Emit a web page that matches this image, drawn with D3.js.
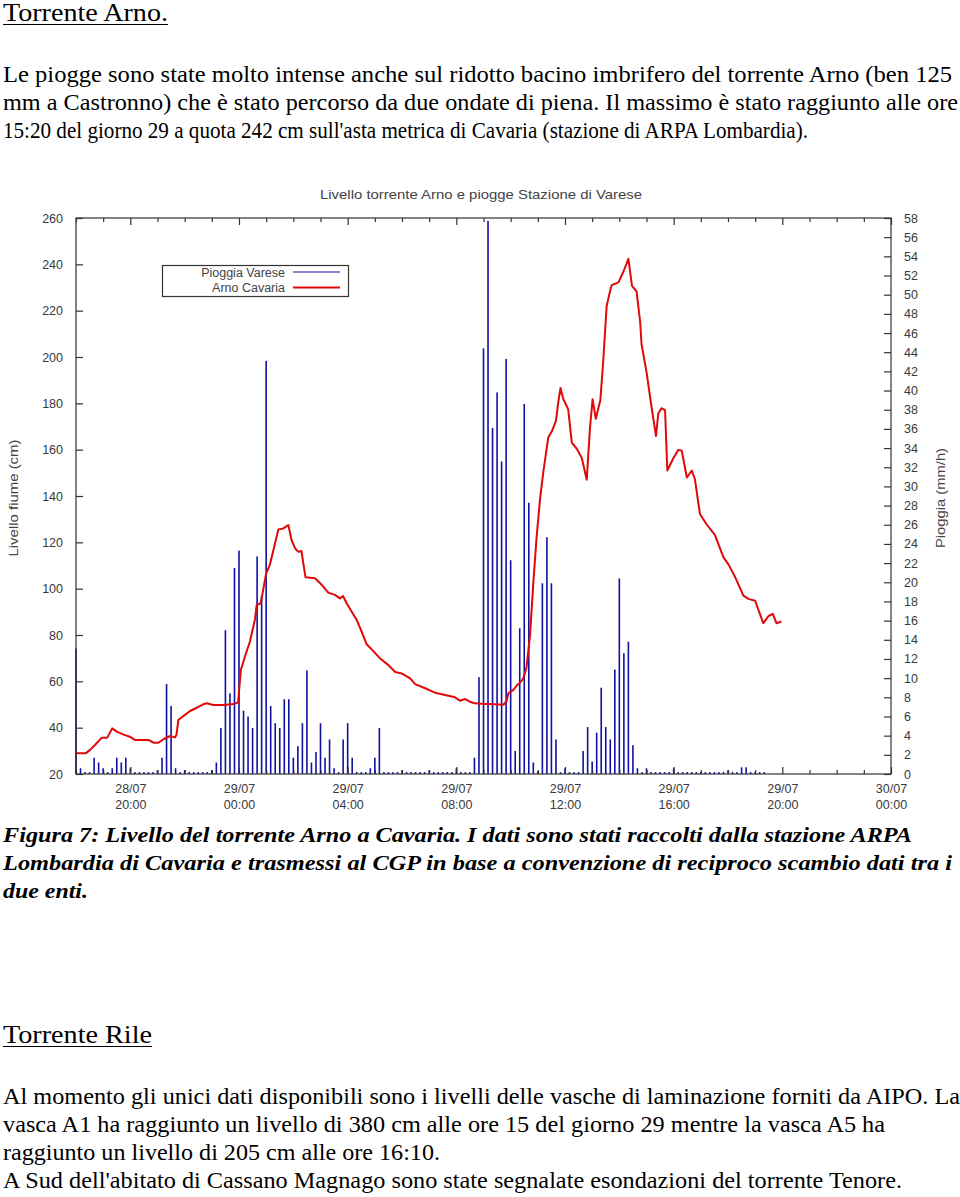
<!DOCTYPE html>
<html><head><meta charset="utf-8">
<script src="https://cdn.jsdelivr.net/npm/d3@7"></script>
<style>body{margin:0;background:#fff;overflow:hidden}</style>
</head><body>
<svg id="page" width="960" height="1197"></svg>
<script>
// ---------------- DATA ----------------
const chartTitle = "Livello torrente Arno e piogge Stazione di Varese";
const leftAxisTitle = "Livello fiume (cm)";
const rightAxisTitle = "Pioggia (mm/h)";
const legendLabels = ["Pioggia Varese", "Arno Cavaria"];

const xDomain = ["28/07 18:00", "30/07 00:00"];
const xTickTimes = ["28/07 20:00", "29/07 00:00", "29/07 04:00", "29/07 08:00", "29/07 12:00", "29/07 16:00", "29/07 20:00", "30/07 00:00"];
const leftTicks = [20, 40, 60, 80, 100, 120, 140, 160, 180, 200, 220, 240, 260];
const rightTicks = [0, 2, 4, 6, 8, 10, 12, 14, 16, 18, 20, 22, 24, 26, 28, 30, 32, 34, 36, 38, 40, 42, 44, 46, 48, 50, 52, 54, 56, 58];

// rain, one value every 10 minutes from rainStart (mm/h)
const rainStart = "28/07 18:00";
const rainStepMinutes = 10;
const rainValues = [
  13.1, 0.6, 0.2, 0.2, 1.7, 1.2, 0.6, 0.2, 0.6, 1.7,
  1.2, 1.7, 0.6, 0.2, 0.2, 0.2, 0.2, 0.2, 0.4, 1.7,
  9.4, 7.1, 0.6, 0.2, 0.4, 0.2, 0.2, 0.2, 0.2, 0.2,
  0.4, 1.2, 4.8, 15.0, 8.4, 21.5, 23.3, 6.6, 6.0, 4.8,
  22.7, 18.6, 43.1, 7.1, 5.3, 4.8, 7.8, 7.8, 1.7, 2.9,
  5.3, 10.8, 1.2, 2.3, 5.3, 1.7, 3.6, 0.6, 0.2, 3.6,
  5.3, 1.7, 0.2, 0.2, 0.2, 0.6, 1.7, 4.8, 0.2, 0.2,
  0.2, 0.2, 0.4, 0.2, 0.2, 0.2, 0.2, 0.2, 0.4, 0.2,
  0.2, 0.2, 0.2, 0.2, 0.6, 0.2, 0.2, 0.2, 1.7, 10.1,
  44.4, 57.7, 36.1, 39.8, 32.6, 43.3, 22.3, 2.4, 15.2, 38.6,
  28.3, 1.2, 0.3, 19.9, 24.7, 19.9, 3.6, 0.2, 0.6, 0.2,
  0.2, 0.2, 2.4, 4.9, 1.3, 4.3, 9.0, 4.9, 3.6, 10.9,
  20.4, 12.6, 13.8, 3.0, 0.6, 0.2, 0.6, 0.2, 0.2, 0.2,
  0.2, 0.2, 0.6, 0.2, 0.2, 0.2, 0.2, 0.2, 0.2, 0.2,
  0.2, 0.2, 0.2, 0.2, 0.4, 0.2, 0.2, 0.7, 0.7, 0.2,
  0.2, 0.2, 0.2
];

// river level (cm)
const levelTimes = [
  "28/07 18:00","28/07 18:22","28/07 18:31","28/07 18:42","28/07 18:57","28/07 19:09","28/07 19:20","28/07 19:30","28/07 19:44","28/07 19:59",
  "28/07 20:10","28/07 20:40","28/07 20:51","28/07 21:02","28/07 21:13","28/07 21:28","28/07 21:39","28/07 21:42","28/07 21:46","28/07 21:57",
  "28/07 22:12","28/07 22:27","28/07 22:41","28/07 22:49","28/07 23:03","28/07 23:25","28/07 23:47","28/07 23:58","29/07 00:04","29/07 00:13",
  "29/07 00:24","29/07 00:35","29/07 00:39","29/07 00:48","29/07 01:00","29/07 01:08","29/07 01:17","29/07 01:27","29/07 01:38","29/07 01:49",
  "29/07 01:56","29/07 02:04","29/07 02:11","29/07 02:18","29/07 02:22","29/07 02:27","29/07 02:48","29/07 03:03","29/07 03:17","29/07 03:32",
  "29/07 03:43","29/07 03:50","29/07 03:58","29/07 04:09","29/07 04:20","29/07 04:31","29/07 04:42","29/07 04:53","29/07 05:11","29/07 05:30",
  "29/07 05:45","29/07 05:59","29/07 06:18","29/07 06:29","29/07 06:51","29/07 07:13","29/07 07:35","29/07 07:57","29/07 08:08","29/07 08:19",
  "29/07 08:30","29/07 08:41","29/07 09:03","29/07 09:14","29/07 09:44","29/07 09:51","29/07 09:55","29/07 10:06","29/07 10:13","29/07 10:21",
  "29/07 10:28","29/07 10:35","29/07 10:43","29/07 10:50","29/07 10:57","29/07 11:05","29/07 11:12","29/07 11:23","29/07 11:31","29/07 11:40",
  "29/07 11:45","29/07 11:50","29/07 11:56","29/07 12:07","29/07 12:15","29/07 12:26","29/07 12:37","29/07 12:48","29/07 12:55","29/07 13:01",
  "29/07 13:08","29/07 13:18","29/07 13:24","29/07 13:32","29/07 13:39","29/07 13:43","29/07 13:58","29/07 14:09","29/07 14:20","29/07 14:28",
  "29/07 14:38","29/07 14:46","29/07 14:49","29/07 15:00","29/07 15:11","29/07 15:21","29/07 15:26","29/07 15:33","29/07 15:41","29/07 15:46",
  "29/07 15:59","29/07 16:10","29/07 16:18","29/07 16:29","29/07 16:40","29/07 16:47","29/07 16:58","29/07 17:13","29/07 17:31","29/07 17:50",
  "29/07 18:01","29/07 18:15","29/07 18:34","29/07 18:45","29/07 19:00","29/07 19:11","29/07 19:18","29/07 19:29","29/07 19:39","29/07 19:47",
  "29/07 19:58"
];
const levelValues = [
  29, 29, 30.4, 32.5, 35.7, 35.7, 39.7, 38.3, 37.1, 36.1,
  34.7, 34.7, 33.5, 33.5, 35, 36.4, 35.8, 37, 43.3, 45,
  47.2, 48.6, 50.1, 50.5, 49.8, 49.8, 50.2, 50.8, 64.9, 70.6,
  77.1, 86.5, 92.9, 93.7, 106.6, 110.2, 117.4, 125.6, 126, 127.5,
  121, 117.4, 115.9, 116.3, 110.9, 104.9, 104.5, 101.6, 98.3, 97.3,
  95.8, 96.8, 93.6, 90, 86.5, 81.4, 76, 73.8, 70, 67,
  64, 63.4, 61.3, 58.8, 57, 55.1, 54.1, 53.1, 51.6, 52.4,
  51.2, 50.5, 50.2, 50.2, 49.9, 51.5, 54.9, 56.3, 58.1, 59.5,
  61.3, 66, 80.3, 102.5, 121.6, 139, 150.2, 165.2, 167.9, 172.4,
  180.3, 186.6, 182, 177.5, 163, 160.4, 156.5, 147, 169, 181.8,
  173.3, 181.3, 197, 222, 228, 231, 232.2, 236.8, 242.4, 230.7,
  228.3, 215.2, 205.6, 193.6, 178.6, 165.9, 175.6, 177.9, 177.1, 151,
  156.2, 159.9, 159.5, 148, 151, 147.2, 132.2, 127.7, 123.2, 113.5,
  110.5, 105.3, 97, 95.6, 94.8, 88.8, 85.1, 88.1, 89.1, 85.1,
  85.8
];

// ---------------- PAGE TEXT ----------------
const serif = "'Liberation Serif', 'Times New Roman', serif";
const sans = "'Liberation Sans', Arial, sans-serif";
const textLines = [
  {t: "Torrente Arno.", y: 21, w: 165, size: 25, u: true},
  {t: "Le piogge sono state molto intense anche sul ridotto bacino imbrifero del torrente Arno (ben 125", y: 82, w: 949, size: 24},
  {t: "mm a Castronno) che è stato percorso da due ondate di piena. Il massimo è stato raggiunto alle ore", y: 110, w: 955, size: 24},
  {t: "15:20 del giorno 29 a quota 242 cm sull'asta metrica di Cavaria (stazione di ARPA Lombardia).", y: 138, w: 805, size: 24},
  {t: "Figura 7: Livello del torrente Arno a Cavaria. I dati sono stati raccolti dalla stazione ARPA", y: 842, w: 909, size: 22, bi: true},
  {t: "Lombardia di Cavaria e trasmessi al CGP in base a convenzione di reciproco scambio dati tra i", y: 870, w: 949, size: 22, bi: true},
  {t: "due enti.", y: 898, w: 85, size: 22, bi: true},
  {t: "Torrente Rile", y: 1043, w: 149, size: 25, u: true},
  {t: "Al momento gli unici dati disponibili sono i livelli delle vasche di laminazione forniti da AIPO. La", y: 1104, w: 957, size: 23},
  {t: "vasca A1 ha raggiunto un livello di 380 cm alle ore 15 del giorno 29 mentre la vasca A5 ha", y: 1132, w: 882, size: 23},
  {t: "raggiunto un livello di 205 cm alle ore 16:10.", y: 1160, w: 437, size: 23},
  {t: "A Sud dell'abitato di Cassano Magnago sono state segnalate esondazioni del torrente Tenore.", y: 1188, w: 899, size: 23}
];

const svg = d3.select("#page");
textLines.forEach(d => {
  svg.append("text")
    .attr("x", 3).attr("y", d.y)
    .attr("textLength", d.w).attr("lengthAdjust", "spacingAndGlyphs")
    .style("font-family", serif).style("font-size", d.size + "px")
    .style("font-weight", d.bi ? "bold" : "normal")
    .style("font-style", d.bi ? "italic" : "normal")
    .attr("fill", "#000").text(d.t);
  if (d.u) {
    svg.append("line").attr("x1", 3).attr("x2", 3 + d.w)
      .attr("y1", d.y + 3.5).attr("y2", d.y + 3.5)
      .attr("stroke", "#000").attr("stroke-width", 1.2);
  }
});

// ---------------- CHART ----------------
const parse = d3.timeParse("%d/%m %H:%M");
const L = 76, R = 891, T = 218, B = 774;
const x = d3.scaleTime().domain(xDomain.map(parse)).range([L, R]);
const yL = d3.scaleLinear().domain([20, 260]).range([B, T]);
const yR = d3.scaleLinear().domain([0, 58]).range([B, T]);
const axisColor = "#333";
const labelColor = "#3a3a3a";

const g = svg.append("g");

// rain bars
const t0 = parse(rainStart);
const rain = rainValues.map((v, i) => ({t: d3.timeMinute.offset(t0, i * rainStepMinutes), v}));
g.append("g").selectAll("rect").data(rain).join("rect")
  .attr("x", d => x(d.t) - 0.8)
  .attr("width", 1.6)
  .attr("y", d => yR(d.v))
  .attr("height", d => yR(0) - yR(d.v))
  .attr("fill", "#1212a2");

// level line
const level = levelTimes.map((t, i) => ({t: parse(t), v: levelValues[i]}));
g.append("path").datum(level)
  .attr("d", d3.line().x(d => x(d.t)).y(d => yL(d.v)))
  .attr("fill", "none").attr("stroke", "#e00808")
  .attr("stroke-width", 2).attr("stroke-linejoin", "round");

// frame
g.append("rect").attr("x", L).attr("y", T).attr("width", R - L).attr("height", B - T)
  .attr("fill", "none").attr("stroke", axisColor).attr("stroke-width", 1.2);

function styleAxis(sel) {
  sel.select(".domain").remove();
  sel.selectAll(".tick line").attr("stroke", axisColor).attr("stroke-width", 1.2);
  sel.selectAll(".tick text").attr("fill", labelColor)
    .style("font-family", sans).style("font-size", "12.5px");
}

// left axis
g.append("g").attr("transform", `translate(${L},0)`)
  .call(d3.axisLeft(yL).tickValues(leftTicks).tickSizeInner(-7).tickSizeOuter(0).tickPadding(13).tickFormat(d3.format("d")))
  .call(styleAxis);
// right axis
g.append("g").attr("transform", `translate(${R},0)`)
  .call(d3.axisRight(yR).tickValues(rightTicks).tickSizeInner(-7).tickSizeOuter(0).tickPadding(13).tickFormat(d3.format("d")))
  .call(styleAxis);

// minor hourly ticks (top & bottom)
const hours = d3.timeHour.range(x.domain()[0], d3.timeMinute.offset(x.domain()[1], 1));
const majorSet = new Set(xTickTimes.map(s => +parse(s)));
const minorHours = hours.filter(h => !majorSet.has(+h));
g.append("g").attr("transform", `translate(0,${T})`)
  .call(d3.axisTop(x).tickValues(minorHours).tickSizeInner(-4).tickSizeOuter(0).tickFormat(""))
  .call(styleAxis);
g.append("g").attr("transform", `translate(0,${B})`)
  .call(d3.axisBottom(x).tickValues(minorHours).tickSizeInner(-4).tickSizeOuter(0).tickFormat(""))
  .call(styleAxis);
// major ticks top
g.append("g").attr("transform", `translate(0,${T})`)
  .call(d3.axisTop(x).tickValues(xTickTimes.map(parse)).tickSizeInner(-7).tickSizeOuter(0).tickFormat(""))
  .call(styleAxis);
// major ticks bottom with two-line labels
const fDay = d3.timeFormat("%d/%m"), fHour = d3.timeFormat("%H:%M");
const xb = g.append("g").attr("transform", `translate(0,${B})`)
  .call(d3.axisBottom(x).tickValues(xTickTimes.map(parse)).tickSizeInner(-7).tickSizeOuter(0).tickFormat(""))
  .call(styleAxis);
xb.selectAll(".tick text").each(function(d) {
  const t = d3.select(this).attr("y", 0).attr("dy", null).text(null);
  t.append("tspan").attr("x", 0).attr("y", 19).text(fDay(d));
  t.append("tspan").attr("x", 0).attr("y", 35).text(fHour(d));
});

// titles
svg.append("text").attr("x", 481).attr("y", 199).attr("text-anchor", "middle")
  .style("font-family", sans).style("font-size", "13px").attr("fill", "#444")
  .attr("textLength", 322).attr("lengthAdjust", "spacingAndGlyphs").text(chartTitle);
svg.append("text").attr("transform", "translate(18,498) rotate(-90)").attr("text-anchor", "middle")
  .style("font-family", sans).style("font-size", "13px").attr("fill", "#444")
  .attr("textLength", 117).attr("lengthAdjust", "spacingAndGlyphs").text(leftAxisTitle);
svg.append("text").attr("transform", "translate(945,498) rotate(-90)").attr("text-anchor", "middle")
  .style("font-family", sans).style("font-size", "13px").attr("fill", "#444")
  .attr("textLength", 100).attr("lengthAdjust", "spacingAndGlyphs").text(rightAxisTitle);

// legend
const lg = svg.append("g");
lg.append("rect").attr("x", 162.5).attr("y", 265.5).attr("width", 186).attr("height", 31)
  .attr("fill", "#fff").attr("stroke", axisColor).attr("stroke-width", 1.2);
const legendColors = ["#1212a2", "#e00808"];
const legendWidths = [1.2, 2.2];
legendLabels.forEach((lab, i) => {
  const yy = 272 + i * 15.5;
  lg.append("text").attr("x", 285).attr("y", yy + 4.5).attr("text-anchor", "end")
    .style("font-family", sans).style("font-size", "12.5px").attr("fill", "#444").text(lab);
  lg.append("line").attr("x1", 293).attr("x2", 340).attr("y1", yy).attr("y2", yy)
    .attr("stroke", legendColors[i]).attr("stroke-width", legendWidths[i]);
});
</script>
</body></html>
